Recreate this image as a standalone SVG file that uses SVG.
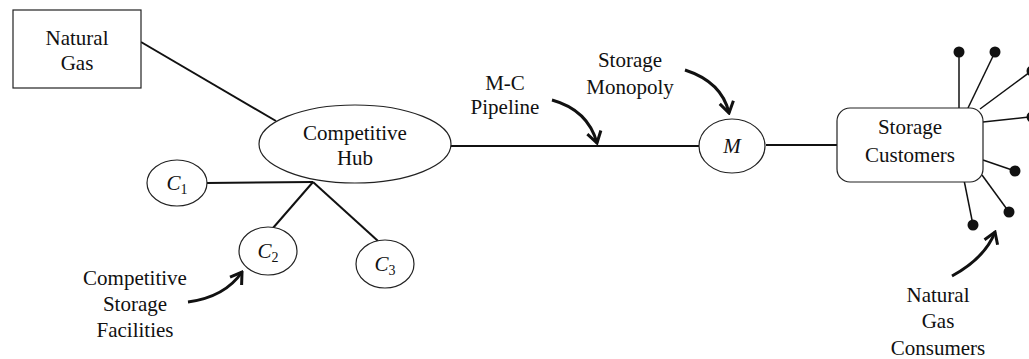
<svg xmlns="http://www.w3.org/2000/svg" width="1029" height="359" viewBox="0 0 1029 359">
<style>
text{font-family:'Liberation Serif','DejaVu Serif',serif;font-size:21px;fill:#111;text-anchor:middle}
.it{font-style:italic}
.sub{font-size:14px;font-style:normal}
.node{fill:#fff;stroke:#222;stroke-width:1.2}
.conn{stroke:#111;stroke-width:2;fill:none}
.spoke{stroke:#111;stroke-width:1.5;fill:none}
.dot{fill:#111}
.arr{stroke:#111;stroke-width:3;fill:none;marker-end:url(#ah)}
</style>
<defs>
<marker id="ah" markerUnits="userSpaceOnUse" viewBox="-14 -9 16 18" markerWidth="16" markerHeight="18" refX="0" refY="0" orient="auto">
<path d="M-11,-7 L0,0 L-11,7" fill="none" stroke="#111" stroke-width="3" stroke-linejoin="miter"/>
</marker>
</defs>
<g id="connectors">
<line class="conn" x1="141" y1="42" x2="276" y2="121"/>
<line class="conn" x1="206" y1="183" x2="313" y2="182"/>
<line class="conn" x1="313" y1="182" x2="273" y2="228"/>
<line class="conn" x1="313" y1="182" x2="378" y2="241"/>
<line class="conn" x1="451" y1="146" x2="699" y2="146" stroke-width="2.5"/>
<line class="conn" x1="766" y1="145" x2="837" y2="145" stroke-width="2.5"/>
<line class="spoke" x1="959" y1="108" x2="959" y2="52"/>
<line class="spoke" x1="968" y1="108" x2="995" y2="52"/>
<line class="spoke" x1="980" y1="109" x2="1030" y2="72"/>
<line class="spoke" x1="983" y1="122" x2="1030" y2="117"/>
<line class="spoke" x1="983" y1="160" x2="1015" y2="171"/>
<line class="spoke" x1="982" y1="175" x2="1009" y2="212"/>
<line class="spoke" x1="964" y1="180" x2="973" y2="225"/>
<circle class="dot" cx="959" cy="52" r="5.5"/>
<circle class="dot" cx="995" cy="52" r="5.5"/>
<circle class="dot" cx="1032" cy="71" r="5.5"/>
<circle class="dot" cx="1032" cy="117" r="5.5"/>
<circle class="dot" cx="1015" cy="171" r="5.5"/>
<circle class="dot" cx="1009" cy="212" r="5.5"/>
<circle class="dot" cx="973" cy="225" r="5.5"/>
<path class="arr" d="M188,302 Q225,297 242,272"/>
<path class="arr" d="M552,100 Q588,110 597,143"/>
<path class="arr" d="M685,70 Q722,82 729,113"/>
<path class="arr" d="M952,276 Q985,258 995,232"/>
</g>
<g id="natural-gas">
<rect class="node" x="13" y="10" width="128" height="78"/>
<text x="77" y="45">Natural</text>
<text x="77" y="70">Gas</text>
</g>
<g id="hub">
<ellipse class="node" cx="355" cy="144" rx="96" ry="39"/>
<text x="355" y="140">Competitive</text>
<text x="355" y="165">Hub</text>
</g>
<g id="c1">
<ellipse class="node" cx="177" cy="183" rx="30" ry="23"/>
<text x="177" y="190"><tspan class="it">C</tspan><tspan class="sub" dy="4">1</tspan></text>
</g>
<g id="c2">
<ellipse class="node" cx="268" cy="251" rx="29" ry="24"/>
<text x="268" y="258"><tspan class="it">C</tspan><tspan class="sub" dy="4">2</tspan></text>
</g>
<g id="c3">
<ellipse class="node" cx="385" cy="264" rx="29" ry="24"/>
<text x="385" y="271"><tspan class="it">C</tspan><tspan class="sub" dy="4">3</tspan></text>
</g>
<g id="m">
<ellipse class="node" cx="732" cy="146" rx="33" ry="27"/>
<text class="it" x="732" y="153">M</text>
</g>
<g id="storage-customers">
<rect class="node" x="837" y="108" width="146" height="74" rx="13"/>
<text x="910" y="134">Storage</text>
<text x="910" y="162">Customers</text>
</g>
<g id="labels">
<text x="135" y="285">Competitive</text>
<text x="135" y="311">Storage</text>
<text x="135" y="337">Facilities</text>
<text x="505" y="90">M-C</text>
<text x="505" y="114">Pipeline</text>
<text x="630" y="67">Storage</text>
<text x="630" y="94">Monopoly</text>
<text x="938" y="302">Natural</text>
<text x="938" y="328">Gas</text>
<text x="938" y="355">Consumers</text>
</g>
</svg>
